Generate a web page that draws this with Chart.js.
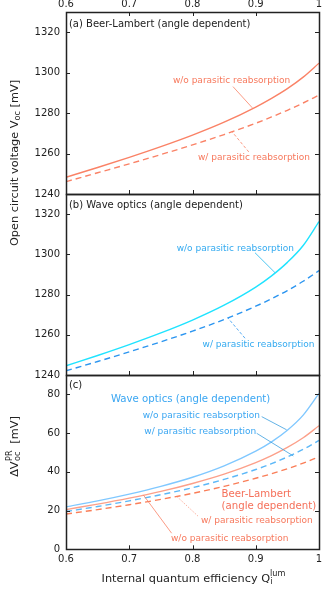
<!DOCTYPE html>
<html>
<head>
<meta charset="utf-8">
<script src="https://cdn.jsdelivr.net/npm/chart.js@4.4.1/dist/chart.umd.min.js"></script>
<style>
html, body { margin: 0; padding: 0; background: #fff; }
#wrap { position: relative; width: 327px; height: 593px; }
canvas { position: absolute; left: 0; top: 0; }
</style>
</head>
<body>
<div id="wrap">
  <canvas id="cA" width="327" height="593"></canvas>
  <canvas id="cB" width="327" height="593"></canvas>
  <canvas id="cC" width="327" height="593"></canvas>
</div>
<script>
// internal quantum efficiency (x values)
var qi = [0.6, 0.65, 0.7, 0.75, 0.8, 0.85, 0.9, 0.925, 0.95, 0.975, 1.0];
var xTicks = [0.6, 0.7, 0.8, 0.9, 1.0];

// (a) Beer-Lambert, Voc [mV]
var blVocWo = [1248.3, 1253.1, 1258.1, 1263.4, 1269.1, 1275.5, 1283.0, 1287.3, 1292.1, 1297.8, 1304.7];
var blVocW  = [1246.1, 1250.5, 1254.9, 1259.5, 1264.3, 1269.4, 1275.0, 1278.1, 1281.4, 1285.0, 1288.9];
// (b) Wave optics, Voc [mV]
var woVocWo = [1244.6, 1249.7, 1255.1, 1260.9, 1267.3, 1274.7, 1283.7, 1289.3, 1296.0, 1304.4, 1316.3];
var woVocW  = [1242.1, 1246.7, 1251.5, 1256.5, 1261.8, 1267.6, 1274.2, 1277.9, 1282.0, 1286.6, 1291.9];
var vocTicks = [1240, 1260, 1280, 1300, 1320];
// (c) delta Voc PR [mV]
var woDvWo = [21.9, 25.0, 28.5, 32.5, 37.2, 43.1, 50.7, 55.5, 61.5, 69.3, 80.5];
var woDvW  = [19.5, 22.1, 25.0, 28.2, 31.8, 36.1, 41.2, 44.2, 47.7, 51.6, 56.2];
var blDvWo = [20.5, 23.3, 26.4, 29.9, 34.0, 38.8, 44.8, 48.4, 52.6, 57.6, 63.8];
var blDvW  = [18.2, 20.5, 23.0, 25.8, 28.9, 32.5, 36.7, 39.0, 41.6, 44.5, 47.8];
var dvTicks = [0, 20, 40, 60, 80];

var FONT = '"DejaVu Sans", sans-serif';
var INK = '#222222';

function pts(ys) {
    return ys.map(function (v, i) { return { x: qi[i], y: v }; });
}

function line(ys, color, dashed) {
    return {
        data: pts(ys),
        borderColor: color,
        borderWidth: 1.4,
        borderDash: dashed ? [6, 4] : [],
        pointRadius: 0,
        cubicInterpolationMode: 'monotone',
        fill: false
    };
}

function txt(ctx, s, x, y, size, color, align) {
    ctx.font = size + 'px ' + FONT;
    ctx.fillStyle = color;
    ctx.textAlign = align || 'left';
    ctx.textBaseline = 'middle';
    ctx.fillText(s, x, y);
    return ctx.measureText(s).width;
}

// frame, inward ticks, notes and pointer lines
var decor = {
    id: 'decor',
    afterDatasetsDraw: function (chart, args, o) {
        var ctx = chart.ctx, a = chart.chartArea;
        var x = chart.scales.x, y = chart.scales.y;
        ctx.save();
        ctx.strokeStyle = INK;
        ctx.lineWidth = 1;
        ctx.beginPath();
        xTicks.forEach(function (v) {
            var px = Math.round(x.getPixelForValue(v)) + 0.5;
            ctx.moveTo(px, a.bottom); ctx.lineTo(px, a.bottom - 4);
            if (o.topTicks) { ctx.moveTo(px, a.top); ctx.lineTo(px, a.top + 4); }
        });
        o.yTicks.forEach(function (v) {
            var py = Math.round(y.getPixelForValue(v)) + 0.5;
            ctx.moveTo(a.left, py); ctx.lineTo(a.left + 4, py);
            ctx.moveTo(a.right, py); ctx.lineTo(a.right - 4, py);
        });
        ctx.stroke();
        ctx.lineWidth = 1.5;
        ctx.strokeRect(Math.round(a.left) + 0.5, Math.round(a.top) + 0.5,
            Math.round(a.width), Math.round(a.height));

        (o.pointers || []).forEach(function (p) {
            ctx.beginPath();
            ctx.strokeStyle = p.color;
            ctx.lineWidth = 0.8;
            ctx.setLineDash(p.dash || []);
            ctx.moveTo(x.getPixelForValue(p.x1), y.getPixelForValue(p.y1));
            ctx.lineTo(x.getPixelForValue(p.x2), y.getPixelForValue(p.y2));
            ctx.stroke();
        });
        ctx.setLineDash([]);
        (o.notes || []).forEach(function (n) {
            txt(ctx, n.text, x.getPixelForValue(n.x), y.getPixelForValue(n.y), n.size || 9, n.color || INK);
        });
        if (o.extra) o.extra(ctx, chart);
        ctx.restore();
    }
};

function makeChart(id, datasets, yMin, yMax, yTicks, cfg) {
    return new Chart(document.getElementById(id), {
        type: 'line',
        data: { datasets: datasets },
        plugins: [decor],
        options: {
            responsive: false,
            animation: false,
            events: [],
            layout: { padding: cfg.padding },
            plugins: {
                legend: { display: false },
                tooltip: { enabled: false },
                decor: { yTicks: yTicks, topTicks: cfg.topTicks, notes: cfg.notes, pointers: cfg.pointers, extra: cfg.extra }
            },
            scales: {
                x: {
                    type: 'linear',
                    min: 0.6, max: 1,
                    position: cfg.xPos,
                    grid: { display: false, drawTicks: false },
                    border: { display: false },
                    afterBuildTicks: function (s) { s.ticks = xTicks.map(function (v) { return { value: v }; }); },
                    afterFit: function (s) { s.height = cfg.xHeight; },
                    ticks: {
                        display: cfg.xLabels,
                        padding: cfg.xPad,
                        color: INK,
                        font: { family: FONT, size: 10 },
                        maxRotation: 0,
                        callback: function (v) { return v === 1 ? '1' : v.toFixed(1); }
                    }
                },
                y: {
                    type: 'linear',
                    min: yMin, max: yMax,
                    grid: { display: false, drawTicks: false },
                    border: { display: false },
                    afterBuildTicks: function (s) { s.ticks = yTicks.map(function (v) { return { value: v }; }); },
                    afterFit: function (s) { s.width = 66; },
                    ticks: {
                        padding: 6,
                        color: INK,
                        font: { family: FONT, size: 10 },
                        callback: function (v) { return String(v); }
                    }
                }
            }
        }
    });
}

var salmon = '#fa8266';
var salmonTxt = '#f7785c';

makeChart('cA', [line(blVocWo, salmon, false), line(blVocW, salmon, true)], 1240, 1330, vocTicks, {
    padding: { top: 0, left: 0, right: 8, bottom: 399 },
    xPos: 'top', xHeight: 12, xLabels: true, xPad: 2, topTicks: true,
    notes: [
        { text: '(a) Beer-Lambert (angle dependent)', x: 0.6047, y: 1323.9, size: 10, color: INK },
        { text: 'w/o parasitic reabsorption', x: 0.769, y: 1296.2, color: salmonTxt },
        { text: 'w/ parasitic reabsorption', x: 0.8087, y: 1258, color: salmonTxt }
    ],
    pointers: [
        { x1: 0.864, y1: 1293.1, x2: 0.8946, y2: 1282.6, color: salmon },
        { x1: 0.889, y1: 1260.8, x2: 0.8625, y2: 1270.8, color: salmon, dash: [3, 2] }
    ],
    extra: function (ctx) {
        // shared y title for panels (a) and (b)
        ctx.save();
        ctx.translate(15, 163);
        ctx.rotate(-Math.PI / 2);
        var s = 11.3;
        ctx.font = s + 'px ' + FONT;
        var w1 = ctx.measureText('Open circuit voltage V').width;
        ctx.font = (s * 0.72) + 'px ' + FONT;
        var w2 = ctx.measureText('oc').width;
        ctx.font = s + 'px ' + FONT;
        var w3 = ctx.measureText(' [mV]').width;
        var x0 = -(w1 + w2 + w3) / 2;
        txt(ctx, 'Open circuit voltage V', x0, 0, s, INK);
        txt(ctx, 'oc', x0 + w1, 3, s * 0.72, INK);
        txt(ctx, ' [mV]', x0 + w1 + w2, 0, s, INK);
        ctx.restore();
    }
});

var cyan = '#1fe3ff';
var blueD = '#2b95f0';
var blueTxt = '#33aaf0';

makeChart('cB', [line(woVocWo, cyan, false), line(woVocW, blueD, true)], 1240, 1330, vocTicks, {
    padding: { top: 194, left: 0, right: 8, bottom: 218 },
    xPos: 'bottom', xHeight: 0, xLabels: false, xPad: 0, topTicks: false,
    notes: [
        { text: '(b) Wave optics (angle dependent)', x: 0.6047, y: 1324.2, size: 10, color: INK },
        { text: 'w/o parasitic reabsorption', x: 0.775, y: 1303.0, color: blueTxt },
        { text: 'w/ parasitic reabsorption', x: 0.816, y: 1254.9, color: blueTxt }
    ],
    pointers: [
        { x1: 0.8988, y1: 1300.8, x2: 0.9304, y2: 1290.9, color: '#1fb8ee' },
        { x1: 0.883, y1: 1258.3, x2: 0.8556, y2: 1268.5, color: blueD, dash: [3, 2] }
    ]
});

var skyS = '#80c8ff', skyD = '#5cb8f8';
var bls = '#fca08a', bld = '#fa7e58';
var blueC = '#3aa6f2', redC = '#f5705a';

makeChart('cC', [line(woDvWo, skyS, false), line(blDvWo, bls, false), line(woDvW, skyD, true), line(blDvW, bld, true)], 0, 90, dvTicks, {
    padding: { top: 375, left: 0, right: 8, bottom: 0 },
    xPos: 'bottom', xHeight: 43.7, xLabels: true, xPad: 4.5, topTicks: false,
    notes: [
        { text: '(c)', x: 0.6047, y: 84.4, size: 10, color: INK },
        { text: 'Wave optics (angle dependent)', x: 0.671, y: 77.2, size: 10.2, color: blueC },
        { text: 'w/o parasitic reabsorption', x: 0.7212, y: 69.0, color: blueC },
        { text: 'w/ parasitic reabsorption', x: 0.7238, y: 60.6, color: blueC },
        { text: 'Beer-Lambert', x: 0.846, y: 28.4, size: 10.2, color: redC },
        { text: '(angle dependent)', x: 0.846, y: 22.0, size: 10.2, color: redC },
        { text: 'w/ parasitic reabsorption', x: 0.8134, y: 14.8, color: salmonTxt },
        { text: 'w/o parasitic reabsorption', x: 0.766, y: 5.3, color: salmonTxt }
    ],
    pointers: [
        { x1: 0.9094, y1: 68.5, x2: 0.9488, y2: 61.7, color: '#3c9fe0' },
        { x1: 0.9015, y1: 59.9, x2: 0.9594, y2: 48.2, color: '#3c9fe0' },
        { x1: 0.7755, y1: 27.2, x2: 0.8098, y2: 16.8, color: salmon, dash: [1, 1.5] },
        { x1: 0.7222, y1: 28.1, x2: 0.767, y2: 8.3, color: salmon }
    ],
    extra: function (ctx) {
        var s = 11.3, sm = s * 0.72;
        // x title
        ctx.font = s + 'px ' + FONT;
        var wa = ctx.measureText('Internal quantum efficiency Q').width;
        ctx.font = sm + 'px ' + FONT;
        var wb = ctx.measureText('lum').width;
        var x0 = 193.5 - (wa + wb) / 2;
        txt(ctx, 'Internal quantum efficiency Q', x0, 579, s, INK);
        txt(ctx, 'i', x0 + wa + 0.5, 582, sm, INK);
        txt(ctx, 'lum', x0 + wa, 574, sm, INK);
        // y title
        ctx.save();
        ctx.translate(15, 446.5);
        ctx.rotate(-Math.PI / 2);
        ctx.font = s + 'px ' + FONT;
        var w1 = ctx.measureText('\u0394V').width;
        ctx.font = sm + 'px ' + FONT;
        var w2 = ctx.measureText('PR').width;
        ctx.font = s + 'px ' + FONT;
        var w3 = ctx.measureText('  [mV]').width;
        var y0 = -(w1 + w2 + w3) / 2;
        txt(ctx, '\u0394V', y0, 0, s, INK);
        txt(ctx, 'PR', y0 + w1 + 0.5, -5, sm, INK);
        txt(ctx, 'oc', y0 + w1 + 0.5, 3, sm, INK);
        txt(ctx, '  [mV]', y0 + w1 + w2, 0, s, INK);
        ctx.restore();
    }
});
</script>
</body>
</html>
